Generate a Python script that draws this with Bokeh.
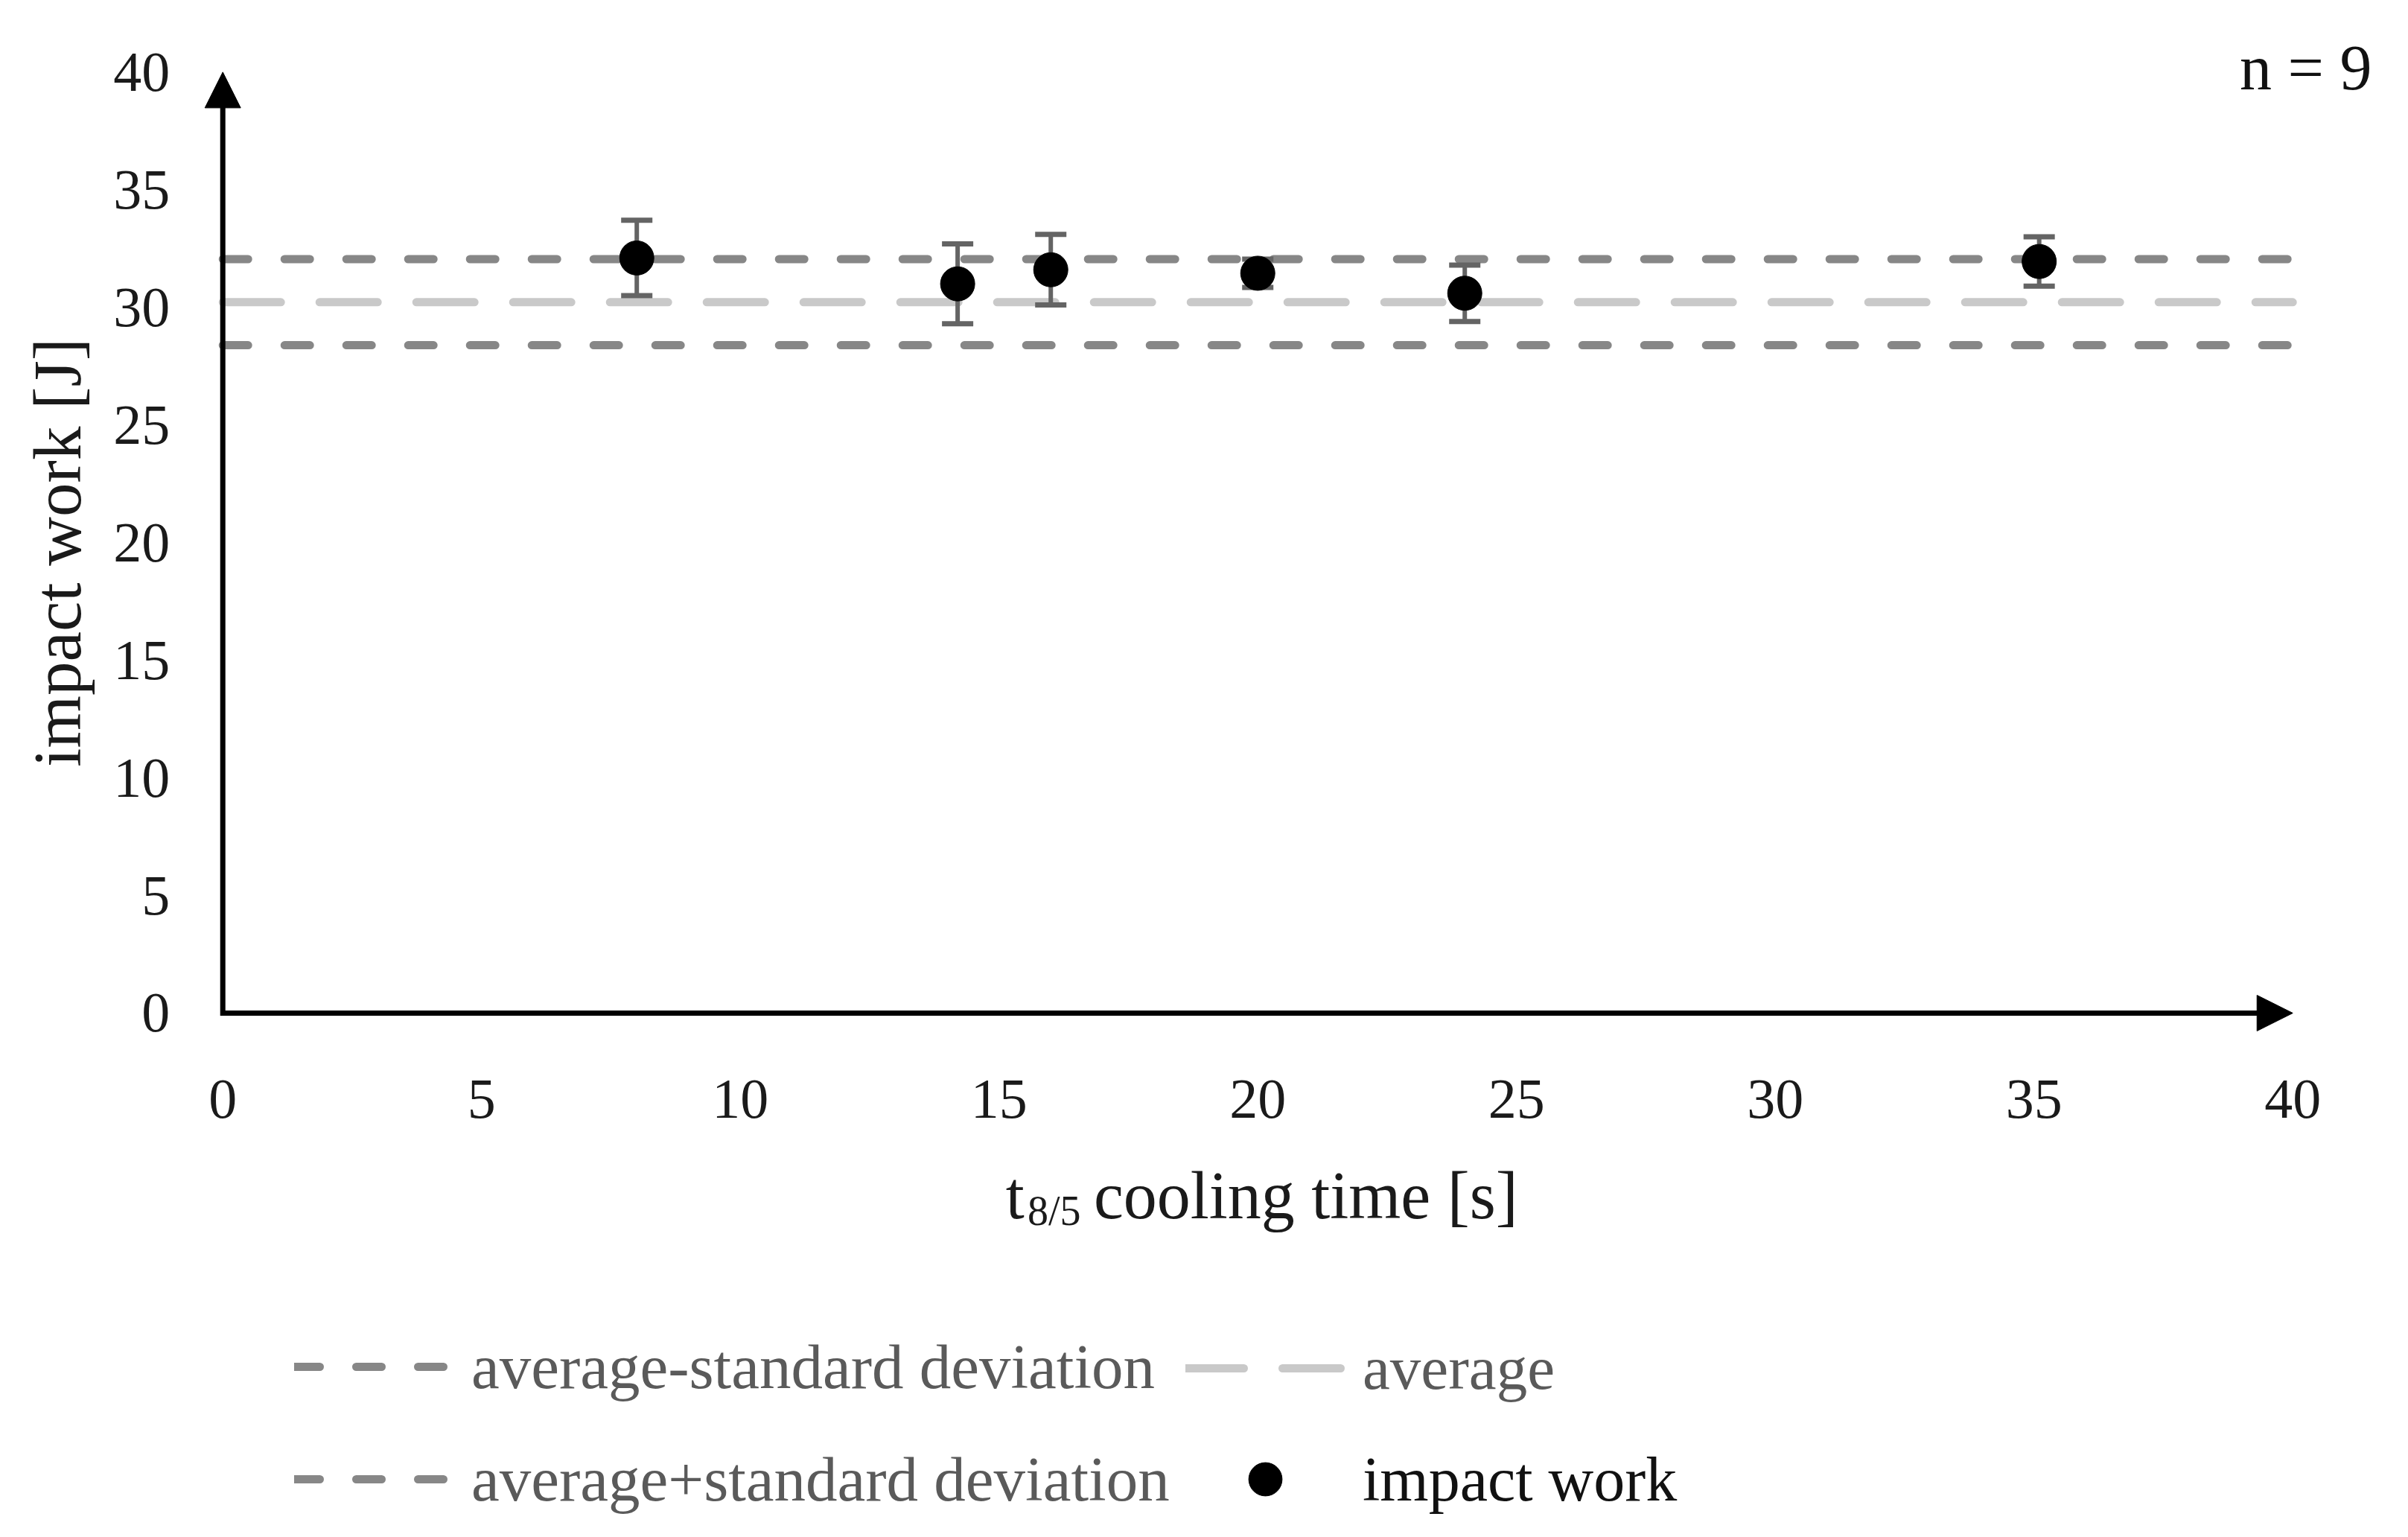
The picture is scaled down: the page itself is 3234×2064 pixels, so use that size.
import math
from bokeh.plotting import figure
from bokeh.models import (Range1d, FixedTicker, Label, Legend, LegendItem,
                          Arrow, NormalHead, ColumnDataSource)
from bokeh.embed import file_html
from bokeh.resources import INLINE

FONT = "Liberation Serif"

# ---- data ----
cooling_time = [8.0, 14.2, 16.0, 20.0, 24.0, 35.1]
impact_work = [32.1, 31.0, 31.6, 31.45, 30.6, 31.95]
impact_sd = [1.6, 1.7, 1.5, 0.6, 1.2, 1.05]
average = 30.22
std_dev = 1.83
x_ticks = [0, 5, 10, 15, 20, 25, 30, 35, 40]
y_ticks = [0, 5, 10, 15, 20, 25, 30, 35, 40]
X_MAX = 40
Y_MAX = 40
n_text = "n = 9"
y_title = "impact work [J]"
x_title_main = "t"
x_title_sub = "8/5"
x_title_rest = "cooling time [s]"
legend_lo = "average-standard deviation"
legend_hi = "average+standard deviation"
legend_avg = "average"
legend_pts = "impact work"

p = figure(width=3218, height=2048,
           x_range=Range1d(-4.298, 42.004), y_range=Range1d(-21.78, 43.05),
           output_backend="svg", toolbar_location=None, min_border=0)
p.xgrid.visible = False
p.ygrid.visible = False
p.outline_line_color = None
p.background_fill_color = "white"
p.border_fill_color = "white"

for ax, ticks in ((p.xaxis[0], x_ticks), (p.yaxis[0], y_ticks)):
    ax.fixed_location = 0
    ax.ticker = FixedTicker(ticks=ticks)
    ax.axis_line_color = None
    ax.major_tick_line_color = None
    ax.minor_tick_line_color = None
    ax.major_tick_in = 0
    ax.major_tick_out = 0
    ax.minor_tick_in = 0
    ax.minor_tick_out = 0
    ax.major_label_text_font = FONT
    ax.major_label_text_font_size = "76px"
    ax.major_label_text_color = "#1a1a1a"
p.yaxis[0].major_label_standoff = 71
p.xaxis[0].major_label_standoff = 91

# ---- horizontal reference lines ----
x_span = [0, X_MAX]
r_lo = p.line(x_span, [average - std_dev] * 2, line_color="#878787",
              line_width=11, line_dash="34 49", line_cap="round")
r_avg = p.line(x_span, [average] * 2, line_color="#c9c9c9",
               line_width=11, line_dash="78 52", line_cap="round")
r_hi = p.line(x_span, [average + std_dev] * 2, line_color="#878787",
              line_width=11, line_dash="34 49", line_cap="round")

# ---- axes with arrows ----
p.line([0, 0, X_MAX - 0.4], [Y_MAX - 0.9, 0, 0], line_color="black",
       line_width=7, line_join="miter")
p.add_layout(Arrow(end=NormalHead(size=48, fill_color="black", line_color="black", line_width=1),
                   x_start=0, y_start=0, x_end=X_MAX, y_end=0, line_color=None))
p.add_layout(Arrow(end=NormalHead(size=48, fill_color="black", line_color="black", line_width=1),
                   x_start=0, y_start=0, x_end=0, y_end=Y_MAX, line_color=None))

# ---- points with error bars ----
src = ColumnDataSource(dict(
    x=cooling_time, y=impact_work,
    lower=[m - s for m, s in zip(impact_work, impact_sd)],
    upper=[m + s for m, s in zip(impact_work, impact_sd)],
))
p.segment(x0="x", y0="lower", x1="x", y1="upper", source=src,
          line_color="#646464", line_width=6)
p.scatter("x", "upper", source=src, marker="dash", size=42,
          line_color="#646464", line_width=7)
p.scatter("x", "lower", source=src, marker="dash", size=42,
          line_color="#646464", line_width=7)
r_pts = p.scatter("x", "y", source=src, size=46, fill_color="black",
                  line_color="black")

# ---- legends ----
def make_legend(items, loc, color, gh, fs):
    lg = Legend(items=items, location=loc, orientation="vertical",
                glyph_width=214, glyph_height=gh, label_height=gh,
                label_standoff=24, spacing=151 - gh, padding=0, margin=0,
                border_line_color=None, background_fill_alpha=0,
                label_text_font=FONT, label_text_font_size=fs,
                label_text_color=color)
    p.add_layout(lg)

make_legend([LegendItem(label=legend_lo, renderers=[r_lo]),
             LegendItem(label=legend_hi, renderers=[r_hi])],
            (395, 12), "#5a5a5a", 100, "85px")
make_legend([LegendItem(label=legend_avg, renderers=[r_avg])],
            (1592, 161), "#5a5a5a", 100, "83px")
make_legend([LegendItem(label=legend_pts, renderers=[r_pts])],
            (1592, 6), "#111111", 112, "84px")

# ---- texts ----
p.add_layout(Label(x=41.53, y=40.2, text=n_text, text_align="right",
                   text_baseline="alphabetic", text_font=FONT,
                   text_font_size="86px", text_color="#111111"))
p.add_layout(Label(x=-3.19, y=19.58, text=y_title, angle=math.pi / 2,
                   text_align="center", text_baseline="middle",
                   text_font=FONT, text_font_size="91px", text_color="#1a1a1a"))
p.add_layout(Label(x=15.13, y=-7.76, text=x_title_main, text_align="left",
                   text_baseline="alphabetic", text_font=FONT,
                   text_font_size="90px", text_color="#1a1a1a"))
p.add_layout(Label(x=15.55, y=-8.39, text=x_title_sub, text_align="left",
                   text_baseline="alphabetic", text_font=FONT,
                   text_font_size="56px", text_color="#1a1a1a"))
p.add_layout(Label(x=16.83, y=-7.76, text=x_title_rest, text_align="left",
                   text_baseline="alphabetic", text_font=FONT,
                   text_font_size="90px", text_color="#1a1a1a"))

open("out.html", "w").write(file_html(p, INLINE))
